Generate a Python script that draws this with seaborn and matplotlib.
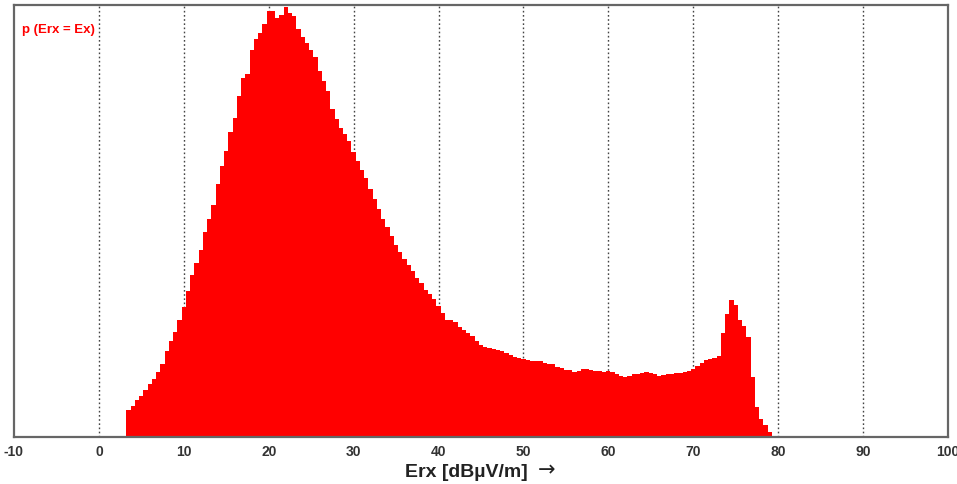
import numpy as np
import pandas as pd
import matplotlib
matplotlib.use("Agg")
import matplotlib.pyplot as plt
import seaborn as sns

# Relative frequency p(Erx = Ex) per 0.5 dB class, first class centred at 3.5 dBuV/m
bin_start = 3.25
bin_width = 0.5
p_values = [
    0.062, 0.072, 0.085, 0.094, 0.108, 0.122, 0.134, 0.150, 0.170, 0.198,
    0.222, 0.243, 0.270, 0.300, 0.338, 0.375, 0.402, 0.432, 0.475, 0.505,
    0.538, 0.585, 0.628, 0.662, 0.705, 0.738, 0.790, 0.832, 0.840, 0.895,
    0.922, 0.935, 0.955, 0.985, 0.985, 0.970, 0.978, 0.996, 0.982, 0.975,
    0.945, 0.925, 0.912, 0.895, 0.880, 0.848, 0.825, 0.800, 0.760, 0.735,
    0.715, 0.702, 0.685, 0.660, 0.638, 0.618, 0.600, 0.575, 0.552, 0.528,
    0.505, 0.486, 0.465, 0.445, 0.428, 0.412, 0.398, 0.384, 0.368, 0.356,
    0.340, 0.330, 0.320, 0.303, 0.288, 0.272, 0.270, 0.266, 0.255, 0.247,
    0.240, 0.233, 0.222, 0.214, 0.208, 0.206, 0.203, 0.201, 0.198, 0.194,
    0.189, 0.186, 0.184, 0.181, 0.179, 0.177, 0.175, 0.176, 0.171, 0.170,
    0.168, 0.162, 0.160, 0.156, 0.154, 0.150, 0.153, 0.158, 0.157, 0.155,
    0.152, 0.153, 0.150, 0.152, 0.150, 0.146, 0.142, 0.140, 0.141, 0.145,
    0.146, 0.148, 0.151, 0.149, 0.146, 0.142, 0.144, 0.146, 0.145, 0.148,
    0.149, 0.150, 0.152, 0.158, 0.165, 0.172, 0.178, 0.181, 0.184, 0.188,
    0.240, 0.285, 0.318, 0.305, 0.272, 0.258, 0.232, 0.140, 0.070, 0.042,
    0.028, 0.012,
]
x_ticks = [-10, 0, 10, 20, 30, 40, 50, 60, 70, 80, 90, 100]
x_tick_labels = ["-10", "0", "10", "20", "30", "40", "50", "60", "70", "80", "90", "100"]
grid_positions = [0, 10, 20, 30, 40, 50, 60, 70, 80, 90]

edges = [bin_start + bin_width * i for i in range(len(p_values) + 1)]
centers = [(a + b) / 2 for a, b in zip(edges[:-1], edges[1:])]
df = pd.DataFrame({"Erx": centers, "p": p_values})

sns.set_style("white")
plt.rcParams["font.family"] = ["Liberation Sans", "DejaVu Sans"]

fig = plt.figure(figsize=(9.57, 4.85), dpi=100)
ax = fig.add_axes([0.0146, 0.0969, 0.976, 0.8907])

for gx in grid_positions:
    ax.axvline(gx, color="#444444", linestyle=(0, (1.2, 1.8)), linewidth=1.0, zorder=0)

sns.histplot(data=df, x="Erx", weights="p", bins=edges, element="step",
             fill=True, color="#ff0000", alpha=1.0, linewidth=0, ax=ax, zorder=2)

ax.set_xlim(-10, 100)
ax.set_ylim(0, 1.0)
ax.set_xticks(x_ticks)
ax.set_xticklabels(x_tick_labels, fontsize=10, fontweight="bold", color="#333333")
ax.set_yticks([])
ax.tick_params(axis="x", length=0, pad=5)
ax.set_ylabel("")
ax.set_xlabel("")

# axis title with the arrow set on the text's mid-height
fig.text(0.4232, 0.0165, "Erx [dBµV/m]", fontsize=14, fontweight="bold",
         color="#222222", ha="left", va="baseline")
fig.text(0.5615, 0.0185, "→", fontsize=15, color="#222222",
         ha="left", va="baseline", family=["DejaVu Sans"])

for side in ["left", "right", "top", "bottom"]:
    ax.spines[side].set_visible(True)
    ax.spines[side].set_color("#666666")
    ax.spines[side].set_linewidth(1.6)

ax.text(0.009, 0.945, "p (Erx = Ex)", transform=ax.transAxes, color="#ff0000",
        fontsize=9.5, fontweight="bold", ha="left", va="center")

fig.savefig("out.png", dpi=100)
